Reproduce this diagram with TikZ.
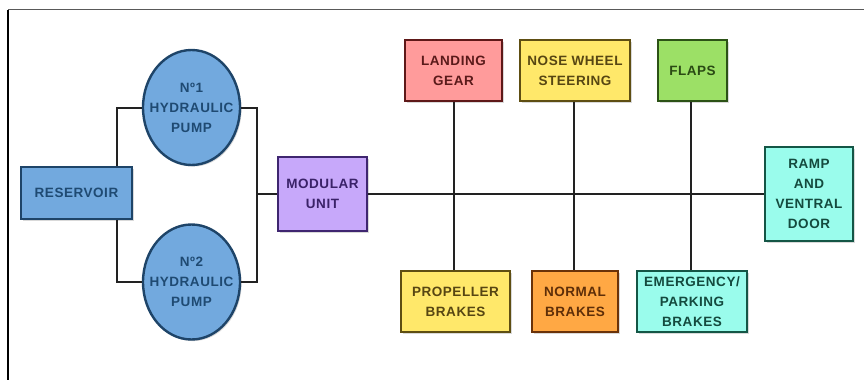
\documentclass[tikz,border=0pt]{standalone}
\usepackage{fontspec}
\setmainfont{Liberation Sans}
\usetikzlibrary{shapes.geometric,shadows}

% fill / border / text colours for each subsystem
\definecolor{resfill}{HTML}{72A9DE}
\definecolor{resline}{HTML}{1E4468}
\definecolor{restext}{HTML}{1F4A72}
\definecolor{modfill}{HTML}{C7A8FA}
\definecolor{modline}{HTML}{3F2670}
\definecolor{modtext}{HTML}{3A2268}
\definecolor{redfill}{HTML}{FF9B9B}
\definecolor{redline}{HTML}{5E1818}
\definecolor{redtext}{HTML}{5A1A1A}
\definecolor{yelfill}{HTML}{FFE86A}
\definecolor{yelline}{HTML}{5E4E12}
\definecolor{yeltext}{HTML}{574612}
\definecolor{grnfill}{HTML}{9CE066}
\definecolor{grnline}{HTML}{2C5216}
\definecolor{grntext}{HTML}{2A4A14}
\definecolor{cyafill}{HTML}{9AFCEC}
\definecolor{cyaline}{HTML}{145646}
\definecolor{cyatext}{HTML}{144A3E}
\definecolor{orafill}{HTML}{FFA844}
\definecolor{oraline}{HTML}{6A3208}
\definecolor{oratext}{HTML}{5E2E08}
\definecolor{wire}{HTML}{222222}

\tikzset{
  labelfont/.style={font=\fontsize{13.5}{20}\selectfont\bfseries\addfontfeatures{LetterSpace=4}},
  unit/.style={draw, line width=2.4pt, align=center, inner sep=0pt, labelfont,
    drop shadow={opacity=0.3, shadow xshift=1.6pt, shadow yshift=-1.6pt}},
  box/.style={unit, rectangle},
  % the ellipse keeps its own size; the caption sits on top of it
  pump/.style={unit, ellipse, fill=resfill, draw=resline,
    minimum width=97pt, minimum height=115pt,
    label={[labelfont, text=restext, align=center, inner sep=0pt]center:#1}},
  pipe/.style={wire, line width=2pt},
  frameline/.style={line width=1.6pt}
}

\begin{document}
\begin{tikzpicture}[x=1pt,y=-1pt]
\useasboundingbox (0,0) rectangle (864,380);

% page frame
\draw[frameline, draw=black!65] (8,9.5) -- (864,9.5);
\draw[frameline, draw=black] (8,9.5) -- (8,380);

% supply side
\node[box, fill=resfill, draw=resline, text=restext,
  minimum width=111pt, minimum height=52pt] (res) at (76.5,193) {RESERVOIR};
\node[pump={Nº1\\HYDRAULIC\\PUMP}] (p1) at (191.5,107.5) {};
\node[pump={Nº2\\HYDRAULIC\\PUMP}] (p2) at (191.5,282) {};
\node[box, fill=modfill, draw=modline, text=modtext,
  minimum width=89pt, minimum height=74pt] (mod) at (322.5,194) {MODULAR\\UNIT};

% consumers above the pressure line
\node[box, fill=redfill, draw=redline, text=redtext,
  minimum width=97pt, minimum height=61pt] (lg) at (453.5,70.5) {LANDING\\GEAR};
\node[box, fill=yelfill, draw=yelline, text=yeltext,
  minimum width=110pt, minimum height=61pt] (nws) at (575,70.5) {NOSE WHEEL\\STEERING};
\node[box, fill=grnfill, draw=grnline, text=grntext,
  minimum width=69pt, minimum height=61pt] (flp) at (692.5,70.5) {FLAPS};

% end of the pressure line
\node[box, fill=cyafill, draw=cyaline, text=cyatext,
  minimum width=88pt, minimum height=94pt] (ramp) at (809,194) {RAMP\\AND\\VENTRAL\\DOOR};

% consumers below the pressure line
\node[box, fill=yelfill, draw=yelline, text=yeltext,
  minimum width=109pt, minimum height=61pt] (pb) at (455.5,301.5) {PROPELLER\\BRAKES};
\node[box, fill=orafill, draw=oraline, text=oratext,
  minimum width=86pt, minimum height=61pt] (nb) at (575,301.5) {NORMAL\\BRAKES};
\node[box, fill=cyafill, draw=cyaline, text=cyatext,
  minimum width=110pt, minimum height=61pt] (epb) at (692,301.5) {EMERGENCY/\\PARKING\\BRAKES};

% pump manifolds
\coordinate (join) at (257,194);
\draw[pipe] ([xshift=40.5pt]res.north) |- (p1.west);
\draw[pipe] ([xshift=40.5pt]res.south) |- (p2.west);
\draw[pipe] (p1.east) -| (join);
\draw[pipe] (p2.east) -| (join);
\draw[pipe] (join) -- (mod.west);

% pressure line and branches
\draw[pipe] (mod.east) -- (ramp.west);
\draw[pipe] (lg.south) -- (lg.south |- pb.north);
\draw[pipe] ([xshift=-1pt]nws.south) -- ([xshift=-1pt]nws.south |- nb.north);
\draw[pipe] ([xshift=-1.5pt]flp.south) -- ([xshift=-1.5pt]flp.south |- epb.north);

\end{tikzpicture}
\end{document}
